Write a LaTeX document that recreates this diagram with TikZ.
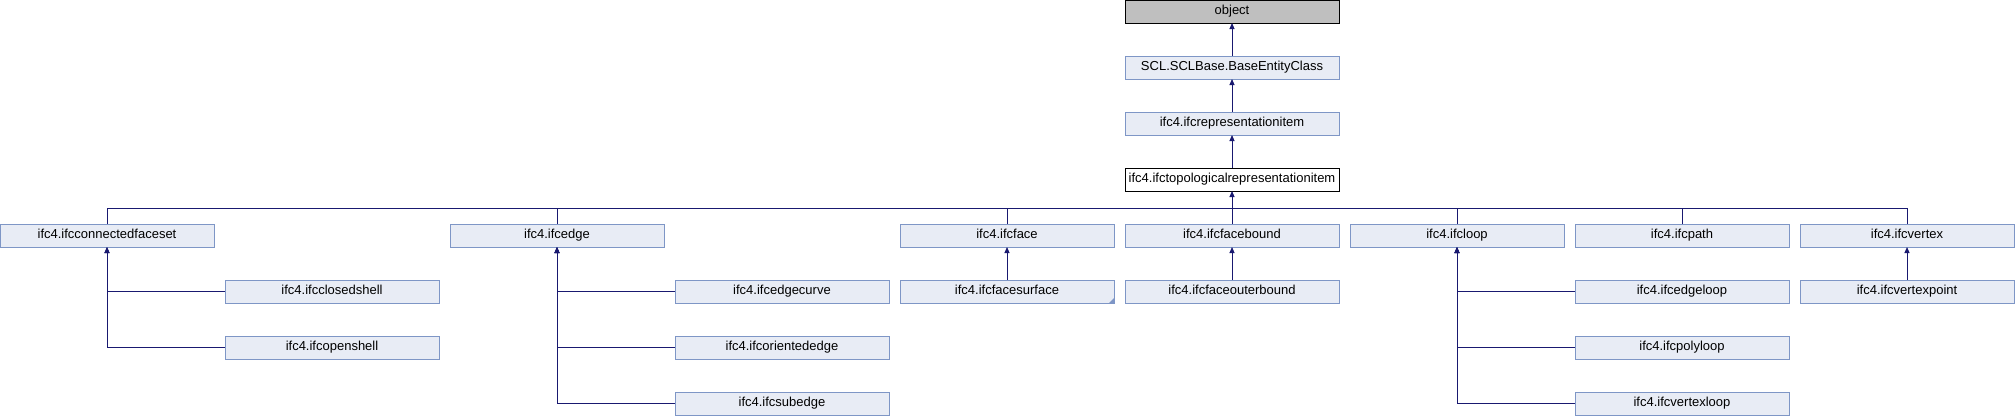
\documentclass[tikz,border=0pt]{standalone}
\usepackage{fontspec}
\setmainfont{Liberation Sans}
\usepackage{xcolor}
\usetikzlibrary{arrows.meta,positioning}
\definecolor{clsfill}{HTML}{E8ECF5}
\definecolor{clsborder}{HTML}{7E96C6}
\definecolor{rootfill}{HTML}{BFBFBF}
\definecolor{edgeblue}{HTML}{191970}
\tikzset{
  cls/.style={draw=clsborder, fill=clsfill, line width=1pt, minimum width=214pt, minimum height=23pt,
    inner sep=0pt, outer sep=0pt, text height=9.5pt, text depth=2.8pt, font=\fontsize{13}{15}\selectfont},
  rootcls/.style={cls, draw=black, fill=rootfill},
  curcls/.style={cls, draw=black, fill=white},
  inherit/.style={draw=edgeblue, line width=1pt}
}

\begin{document}
\begin{tikzpicture}[x=1pt, y=1pt, >={Triangle[length=6pt, width=5pt]}, node distance=33pt and 11pt]
    \useasboundingbox (0,0) rectangle (2015,-416);

    % base chain
    \node[rootcls] (object) at (1232,-11.5) {object};
    \node[cls, below=of object] (base) {SCL.SCLBase.BaseEntityClass};
    \node[cls, below=of base] (repitem) {ifc4.ifcrepresentationitem};
    \node[curcls, below=of repitem] (topo) {ifc4.ifctopologicalrepresentationitem};

    % first level of subclasses
    \node[cls] (cfs) at (107,-235.5) {ifc4.ifcconnectedfaceset};
    \node[cls] (edge) at (557,-235.5) {ifc4.ifcedge};
    \node[cls] (face) at (1007,-235.5) {ifc4.ifcface};
    \node[cls, right=of face] (facebound) {ifc4.ifcfacebound};
    \node[cls, right=of facebound] (loop) {ifc4.ifcloop};
    \node[cls, right=of loop] (path) {ifc4.ifcpath};
    \node[cls, right=of path] (vertex) {ifc4.ifcvertex};

    % second level
    \node[cls, below right=of cfs] (closedshell) {ifc4.ifcclosedshell};
    \node[cls, below=of closedshell] (openshell) {ifc4.ifcopenshell};
    \node[cls, below right=of edge] (edgecurve) {ifc4.ifcedgecurve};
    \node[cls, below=of edgecurve] (orientededge) {ifc4.ifcorientededge};
    \node[cls, below=of orientededge] (subedge) {ifc4.ifcsubedge};
    \node[cls, below=of face] (facesurface) {ifc4.ifcfacesurface};
    \node[cls, below=of facebound] (faceouterbound) {ifc4.ifcfaceouterbound};
    \node[cls, below right=of loop] (edgeloop) {ifc4.ifcedgeloop};
    \node[cls, below=of edgeloop] (polyloop) {ifc4.ifcpolyloop};
    \node[cls, below=of polyloop] (vertexloop) {ifc4.ifcvertexloop};
    \node[cls, below=of vertex] (vertexpoint) {ifc4.ifcvertexpoint};

    \fill[clsborder] (facesurface.south east) -- ++(-5,0) -- ++(5,5) -- cycle;

    % inheritance
    \draw[inherit, <-] (object) -- (base);
    \draw[inherit, <-] (base) -- (repitem);
    \draw[inherit, <-] (repitem) -- (topo);
    \draw[inherit, <-] (topo.south) -- ++(0,-17) coordinate (bus);
    \foreach \c in {cfs,edge,face,facebound,loop,path,vertex}
        \draw[inherit] (\c.north) |- (bus);

    \foreach \c in {closedshell,openshell}
        \draw[inherit, <-] (cfs.south) |- (\c.west);
    \foreach \c in {edgecurve,orientededge,subedge}
        \draw[inherit, <-] (edge.south) |- (\c.west);
    \foreach \c in {edgeloop,polyloop,vertexloop}
        \draw[inherit, <-] (loop.south) |- (\c.west);
    \draw[inherit, <-] (face) -- (facesurface);
    \draw[inherit, <-] (facebound) -- (faceouterbound);
    \draw[inherit, <-] (vertex) -- (vertexpoint);
\end{tikzpicture}
\end{document}
